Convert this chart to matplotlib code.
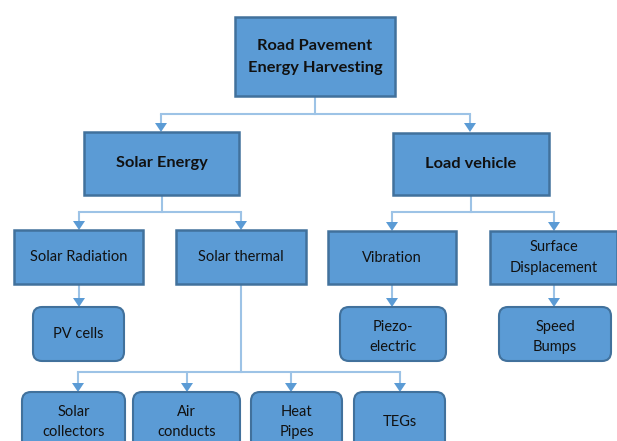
import matplotlib.pyplot as plt
from matplotlib.patches import FancyBboxPatch, Rectangle

plt.rcParams['font.family'] = ['Lato', 'DejaVu Sans']

# ---------------- labels / hierarchy ----------------
root_label = "Road Pavement\nEnergy Harvesting"
level1_labels = ["Solar Energy", "Load vehicle"]
level2_labels = ["Solar Radiation", "Solar thermal", "Vibration", "Surface\nDisplacement"]
level2_parent = [0, 0, 1, 1]
level3_labels = ["PV cells", "Piezo-\nelectric", "Speed\nBumps"]
level3_parent = [0, 2, 3]
thermal_labels = ["Solar\ncollectors", "Air\nconducts", "Heat\nPipes", "TEGs"]

# ---------------- layout (pixels, y down) ----------------
root_box = (235, 17, 160, 79)
level1_boxes = [(84, 132, 155, 63), (393, 133, 156, 62)]
level1_bus_y = 114
level2_boxes = [(14, 230, 129, 54), (176, 230, 130, 54), (328, 231, 128, 53), (490, 231, 127, 53)]
level2_bus_y = 212
level3_boxes = [(33, 307, 91, 54), (340, 307, 106, 54), (499, 307, 112, 54)]
thermal_boxes = [(22, 392, 103, 60), (133, 392, 107, 60), (251, 392, 91, 60), (354, 392, 91, 60)]
thermal_bus_y = 372

fill = '#5B9BD5'
edge = '#41719C'
line_c = '#9DC3E6'
head_c = '#5B9BD5'

fig = plt.figure(figsize=(6.17, 4.41), dpi=100)
ax = fig.add_axes([0, 0, 1, 1])
ax.set_xlim(0, 617)
ax.set_ylim(441, 0)
ax.axis('off')


def cx(b):
    return b[0] + b[2] / 2


def box(b, label, bold=False, rounded=False, size=10.5, clip_y=None, dy=0):
    x, y, w, h = b
    if rounded:
        p = FancyBboxPatch((x, y), w, h, boxstyle="round,pad=0,rounding_size=9",
                           fc=fill, ec=edge, lw=1.5, zorder=3)
    else:
        p = Rectangle((x, y), w, h, fc=fill, ec=edge, lw=1.8, zorder=3)
    ax.add_patch(p)
    t = ax.text(x + w / 2, y + h / 2 + dy, label, ha='center', va='center',
                fontsize=size, fontweight='bold' if bold else 'normal',
                color='#111111', linespacing=1.75 if bold else 1.55, zorder=4)
    if clip_y is not None:
        r = Rectangle((x, y), w, clip_y - y, transform=ax.transData, visible=False)
        ax.add_patch(r)
        t.set_clip_path(r)
    return t


def arrow_down(x, y0, y1):
    ax.plot([x, x], [y0, y1 - 7], color=line_c, lw=1.5, zorder=1, solid_capstyle='butt')
    ax.fill([x - 6, x + 6, x], [y1 - 9, y1 - 9, y1], color=head_c, lw=0, zorder=2)


def bus(parent_x, y_top, y_bus, child_xs, y_child):
    ax.plot([parent_x, parent_x], [y_top, y_bus], color=line_c, lw=1.5, zorder=1)
    ax.plot([min(child_xs), max(child_xs)], [y_bus, y_bus], color=line_c, lw=1.5, zorder=1)
    for x in child_xs:
        arrow_down(x, y_bus, y_child)


# connectors
bus(cx(root_box), root_box[1] + root_box[3], level1_bus_y,
    [161, 470], level1_boxes[0][1])
for i, b in enumerate(level1_boxes):
    kids = [j for j, p in enumerate(level2_parent) if p == i]
    xs = [79, 241] if i == 0 else [392, 554]
    bus(cx(b), b[1] + b[3], level2_bus_y, xs, level2_boxes[kids[0]][1])
for k, pi in enumerate(level3_parent):
    pb = level2_boxes[pi]
    xs = [79, 392, 554][k]
    arrow_down(xs, pb[1] + pb[3], level3_boxes[k][1])
tb = level2_boxes[1]
bus(241, tb[1] + tb[3], thermal_bus_y, [78, 187, 291, 400], thermal_boxes[0][1])

# boxes
box(root_box, root_label, bold=True, size=11.8, dy=0.5)
for b, lab in zip(level1_boxes, level1_labels):
    box(b, lab, bold=True, size=11.8)
for b, lab in zip(level2_boxes, level2_labels):
    box(b, lab)
for k, (b, lab) in enumerate(zip(level3_boxes, level3_labels)):
    box(b, lab, rounded=True, clip_y=350 if k == 2 else None, dy=0 if k == 0 else 3)
for b, lab in zip(thermal_boxes, thermal_labels):
    t = box(b, lab, rounded=True)
    t.set_y(b[1] + 30)

fig.savefig('out.png', dpi=100)
